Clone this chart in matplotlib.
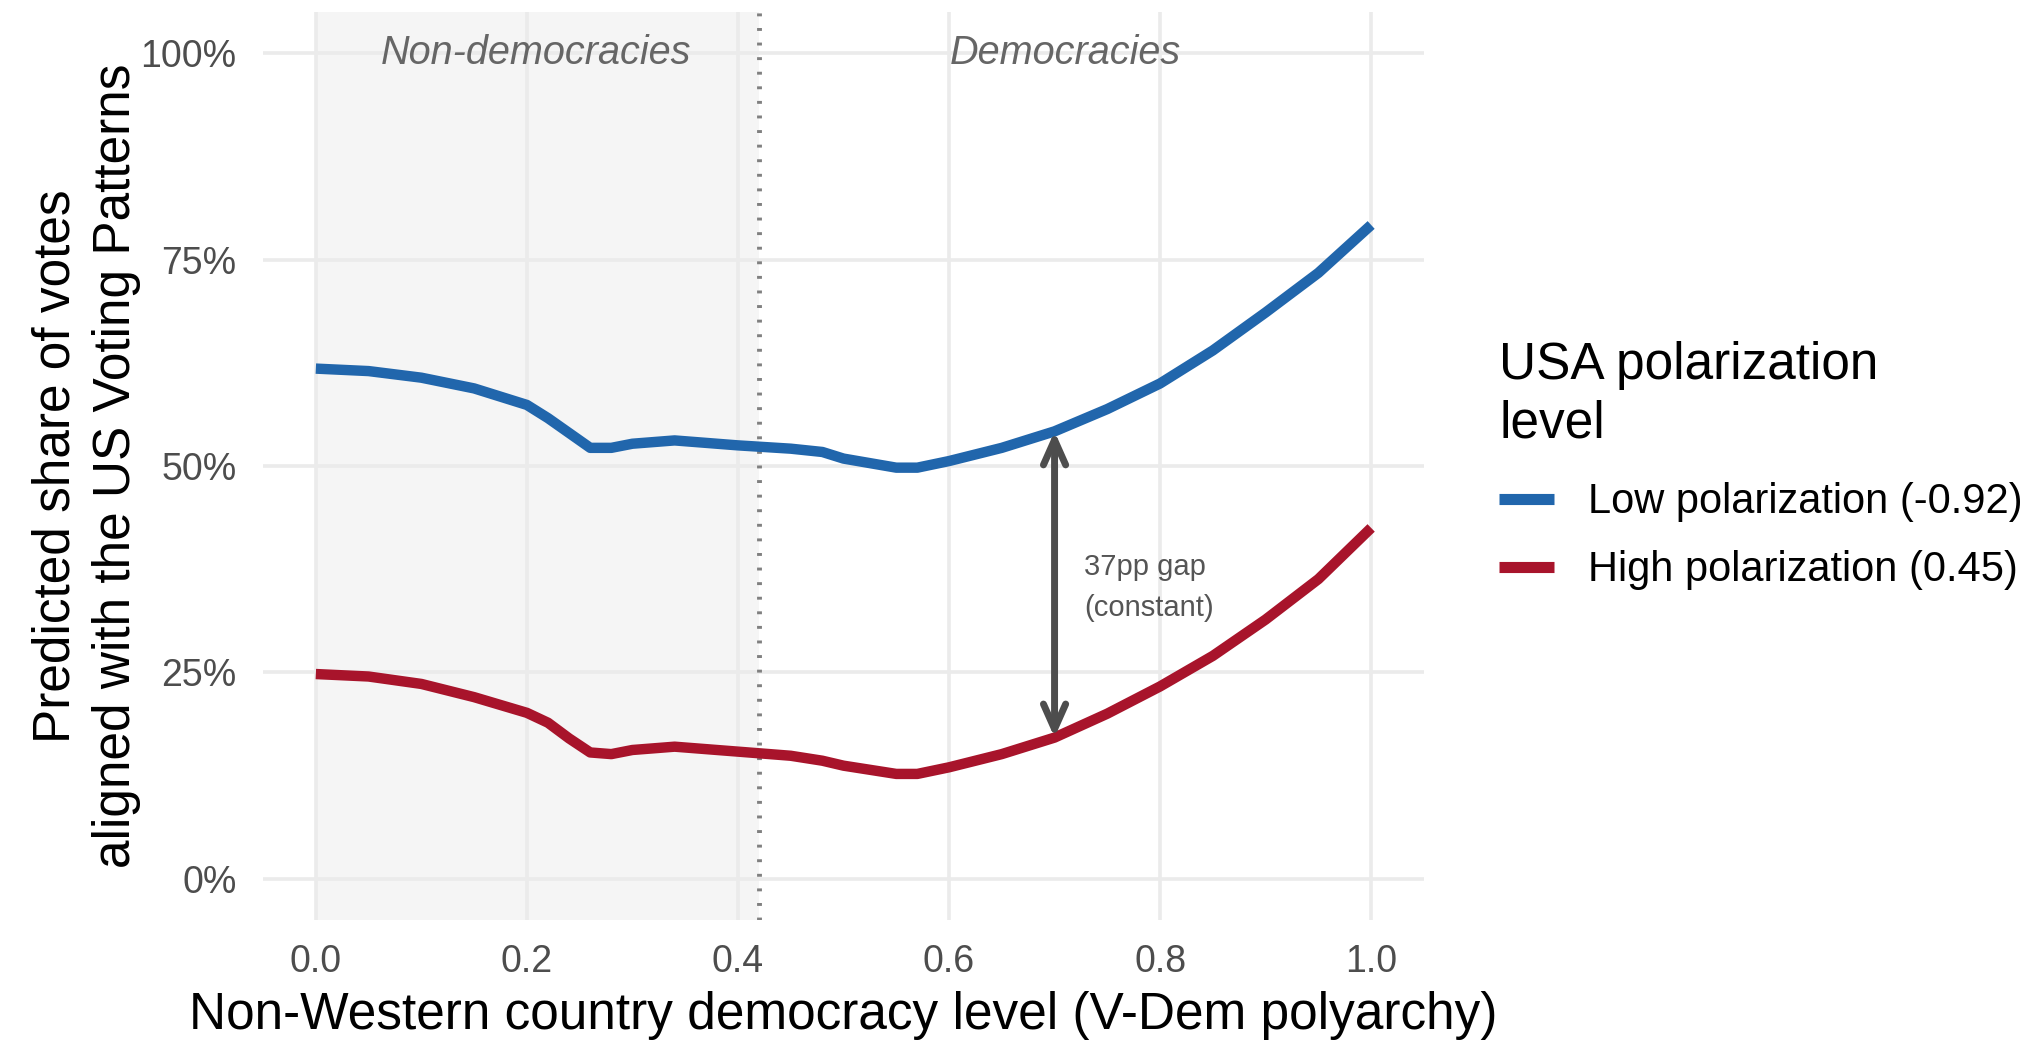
import matplotlib
matplotlib.use("Agg")
import matplotlib.pyplot as plt
import numpy as np

plt.rcParams['font.family'] = ['Liberation Sans', 'DejaVu Sans']

# democracy level (V-Dem polyarchy)
polyarchy = [0.00, 0.05, 0.10, 0.15, 0.20, 0.22, 0.24, 0.26, 0.28, 0.30, 0.34,
             0.40, 0.45, 0.48, 0.50, 0.55, 0.57, 0.60, 0.65, 0.70, 0.75, 0.80,
             0.85, 0.90, 0.95, 1.00]
# predicted share aligned with US, low polarization (-0.92)
low_pol = [0.618, 0.615, 0.607, 0.594, 0.574, 0.558, 0.540, 0.522, 0.522, 0.527, 0.531,
           0.525, 0.521, 0.517, 0.509, 0.498, 0.498, 0.506, 0.522, 0.542, 0.569, 0.600,
           0.640, 0.686, 0.734, 0.792]
# high polarization (0.45)
high_pol = [0.248, 0.245, 0.236, 0.220, 0.201, 0.189, 0.170, 0.153, 0.151, 0.156, 0.160,
            0.154, 0.149, 0.143, 0.137, 0.127, 0.127, 0.135, 0.151, 0.171, 0.200, 0.233,
            0.270, 0.314, 0.363, 0.425]

threshold = 0.42
gap_at = 0.70
series_labels = ["Low polarization (-0.92)", "High polarization (0.45)"]
blue = "#2166AC"
red = "#A8142B"

fig = plt.figure(figsize=(20.33, 10.43), dpi=100)
ax = fig.add_axes([0.1294, 0.1179, 0.7004 - 0.1294, 0.9885 - 0.1179])

ax.axvspan(0, threshold, color="#F5F5F5", zorder=0, lw=0)
ax.axvline(threshold, color="#808080", ls=(0, (0.6, 2.4)), lw=3.5, zorder=1)

ax.plot(polyarchy, low_pol, color=blue, lw=7.5, solid_capstyle="butt",
        solid_joinstyle="round", label=series_labels[0], zorder=3)
ax.plot(polyarchy, high_pol, color=red, lw=7.5, solid_capstyle="butt",
        solid_joinstyle="round", label=series_labels[1], zorder=3)

y_top = np.interp(gap_at, polyarchy, low_pol)
y_bot = np.interp(gap_at, polyarchy, high_pol)
ax.annotate("", xy=(gap_at, y_top), xytext=(gap_at, y_bot),
            arrowprops=dict(arrowstyle="<->,head_length=1.8,head_width=0.8",
                            color="#4D4D4D", lw=5, shrinkA=0, shrinkB=0), zorder=4)
ax.text(gap_at + 0.028, (y_top + y_bot) / 2 - 0.004, "37pp gap\n(constant)", ha="left",
        va="center", fontsize=21, color="#555555", linespacing=1.6)

ax.text(0.209, 1.0, "Non-democracies", ha="center", va="center", fontsize=28.5,
        style="italic", color="#666666")
ax.text(0.71, 1.0, "Democracies", ha="center", va="center", fontsize=28.5,
        style="italic", color="#666666")

ax.set_xlim(-0.05, 1.05)
ax.set_ylim(-0.05, 1.05)
ax.set_xticks([0, 0.2, 0.4, 0.6, 0.8, 1.0])
ax.set_xticklabels(["0.0", "0.2", "0.4", "0.6", "0.8", "1.0"])
ax.set_yticks([0, 0.25, 0.5, 0.75, 1.0])
ax.set_yticklabels(["0%", "25%", "50%", "75%", "100%"])
ax.grid(True, color="#EBEBEB", lw=2.6, zorder=0)
ax.set_axisbelow(True)
for s in ax.spines.values():
    s.set_visible(False)
ax.tick_params(length=0, labelsize=27, labelcolor="#4D4D4D")
ax.tick_params(axis="y", pad=19)
ax.tick_params(axis="x", pad=17)

ax.set_xlabel("Non-Western country democracy level (V-Dem polyarchy)", fontsize=37, labelpad=8)
ax.set_ylabel("Predicted share of votes\naligned with the US Voting Patterns", fontsize=37,
              labelpad=0, linespacing=1.3)

leg = ax.legend(loc="upper left", bbox_to_anchor=(0.7272, 0.6926), bbox_transform=fig.transFigure,
                frameon=False, fontsize=30, title="USA polarization\nlevel", title_fontsize=37,
                alignment="left", borderpad=0, handlelength=1.32, handletextpad=0.8,
                labelspacing=0.676)
leg.get_title().set_linespacing(1.25)
# a little more room between legend title and keys
leg._legend_box.sep = 0.676 * 30 + 3.6
for line in leg.get_lines():
    line.set_linewidth(8)

fig.savefig("out.png", dpi=100)
